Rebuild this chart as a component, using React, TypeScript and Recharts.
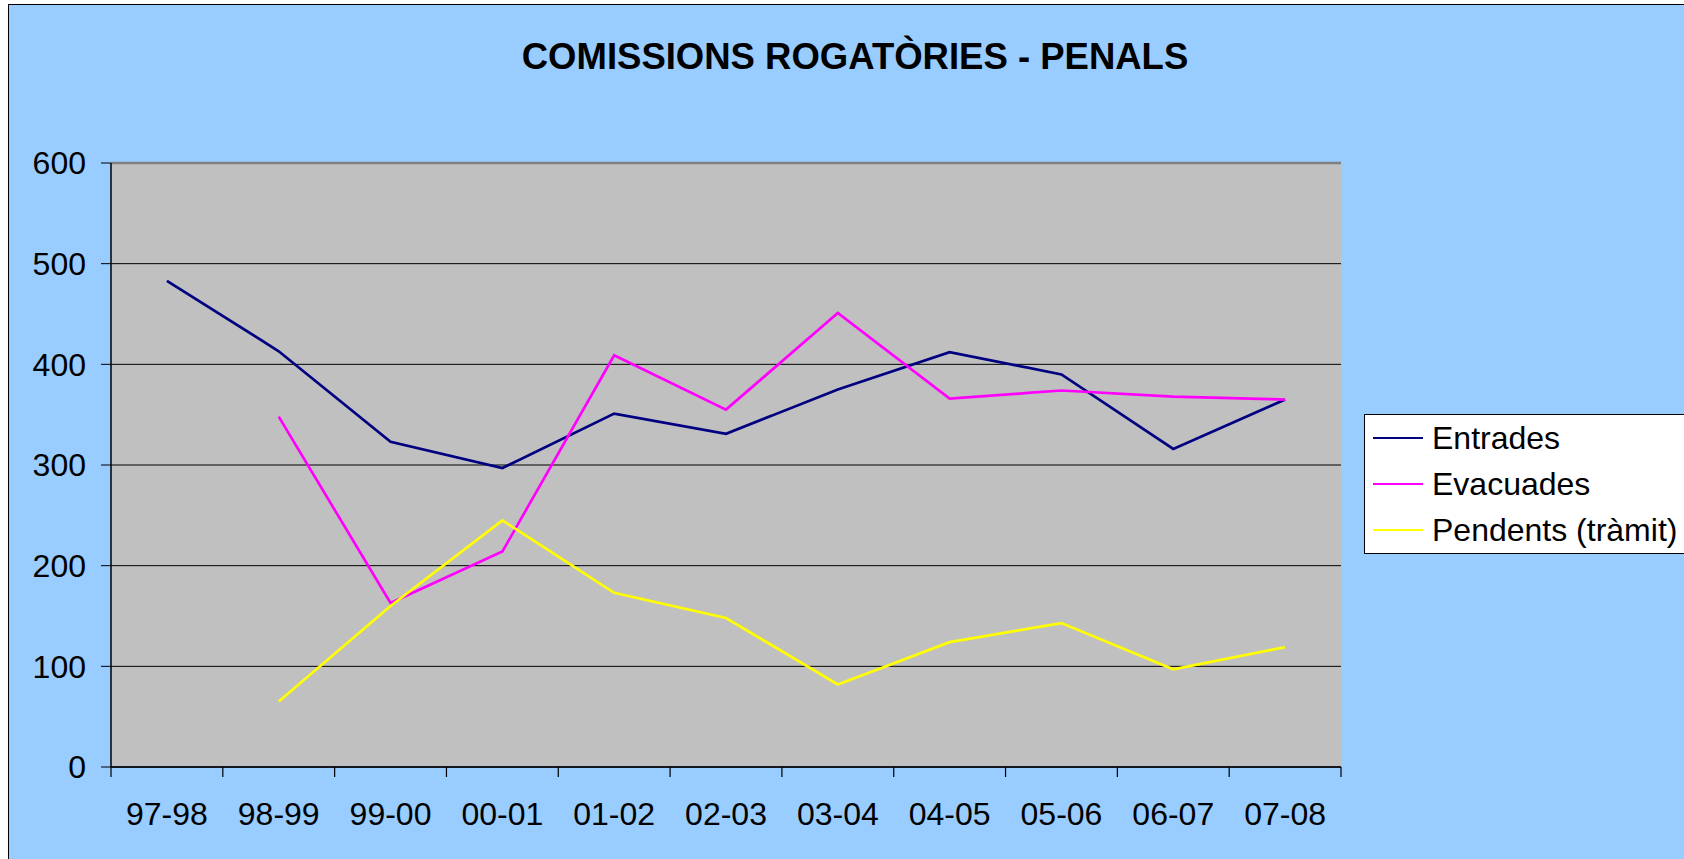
import { CartesianGrid, ComposedChart, Legend, Line, ReferenceLine, XAxis, YAxis } from "recharts";

const categories = ["97-98", "98-99", "99-00", "00-01", "01-02", "02-03", "03-04", "04-05", "05-06", "06-07", "07-08"];
const entrades = [483, 413, 323, 297, 351, 331, 375, 412, 390, 316, 365];
const evacuades = [null, 348, 163, 214, 409, 355, 451, 366, 374, 368, 365];
const pendents = [null, 65, 160, 245, 173, 148, 82, 124, 143, 97, 119];
const yTicks = [0, 100, 200, 300, 400, 500, 600];

const series = [
    { key: "entrades", name: "Entrades", color: "#000080" },
    { key: "evacuades", name: "Evacuades", color: "#FF00FF" },
    { key: "pendents", name: "Pendents (tràmit)", color: "#FFFF00" },
];

const data = categories.map((c, i) => ({
    name: c,
    entrades: entrades[i],
    evacuades: evacuades[i],
    pendents: pendents[i],
}));

const FONT = '"Liberation Sans", Arial, sans-serif';
const CHART_W = 1675;
const CHART_H = 854;
const MARGIN = { top: 158, right: 343, bottom: 0, left: 22 };
const Y_AXIS_W = 80;
const PLOT_W = CHART_W - MARGIN.left - MARGIN.right - Y_AXIS_W;
const BAND = PLOT_W / categories.length;

// category ticks sit between the categories, labels in the middle
const XTick = (props: any) => {
    const { x, y, payload, index } = props;
    const last = index === categories.length - 1;
    return (
        <g>
            <line x1={x - BAND / 2} x2={x - BAND / 2} y1={y} y2={y + 10} stroke="#000" strokeWidth={1.2} />
            {last && <line x1={x + BAND / 2} x2={x + BAND / 2} y1={y} y2={y + 10} stroke="#000" strokeWidth={1.2} />}
            <text x={x} y={y + 58} textAnchor="middle" fontSize={32} fontFamily={FONT} fill="#000">
                {payload.value}
            </text>
        </g>
    );
};

const LegendBox = (props: any) => {
    const items = props.payload || [];
    return (
        <div
            style={{
                background: "#fff",
                border: "1px solid #000",
                width: 340,
                boxSizing: "border-box",
                fontFamily: FONT,
                fontSize: 32,
                color: "#000",
            }}
        >
            {items.map((it: any) => (
                <div key={it.value} style={{ height: 46, display: "flex", alignItems: "center", paddingLeft: 8 }}>
                    <span style={{ display: "inline-block", width: 50, height: 2.5, background: it.color, marginRight: 9 }} />
                    <span style={{ whiteSpace: "nowrap" }}>{it.value}</span>
                </div>
            ))}
        </div>
    );
};

export default function App() {
    return (
        <div
            style={{
                position: "fixed",
                left: 8,
                top: 4,
                right: 0,
                bottom: 0,
                background: "#99CCFF",
                borderLeft: "1px solid #000",
                borderTop: "1px solid #000",
                overflow: "hidden",
            }}
        >
            <div
                style={{
                    position: "absolute",
                    left: 346,
                    top: 34,
                    width: 1000,
                    textAlign: "center",
                    fontFamily: FONT,
                    fontWeight: "bold",
                    fontSize: 36.5,
                    lineHeight: "36.5px",
                    color: "#000",
                    whiteSpace: "nowrap",
                }}
            >
                COMISSIONS ROGATÒRIES - PENALS
            </div>
            <ComposedChart width={CHART_W} height={CHART_H} data={data} margin={MARGIN}>
                <CartesianGrid vertical={false} stroke="#000" strokeWidth={1} fill="#C0C0C0" yAxisId="left" />
                <XAxis
                    dataKey="name"
                    height={92}
                    padding={{ left: BAND / 2, right: BAND / 2 }}
                    tickLine={false}
                    tickSize={0}
                    tickMargin={0}
                    interval={0}
                    axisLine={{ stroke: "#000", strokeWidth: 1.5 }}
                    tick={<XTick />}
                />
                <YAxis
                    yAxisId="left"
                    width={Y_AXIS_W}
                    domain={[0, 600]}
                    ticks={yTicks}
                    interval={0}
                    tickSize={10}
                    tickMargin={15}
                    tickLine={{ stroke: "#000" }}
                    axisLine={{ stroke: "#000", strokeWidth: 1.5 }}
                    tick={{ fontSize: 32, fontFamily: FONT, fill: "#000" }}
                />
                <YAxis
                    yAxisId="right"
                    orientation="right"
                    width={0}
                    domain={[0, 600]}
                    tick={false}
                    tickLine={false}
                    axisLine={{ stroke: "#808080", strokeWidth: 2.7 }}
                />
                <ReferenceLine yAxisId="left" y={600} stroke="#808080" strokeWidth={2.7} />
                <Legend
                    layout="vertical"
                    align="center"
                    verticalAlign="middle"
                    content={<LegendBox />}
                    wrapperStyle={{ left: 1355, top: 409, width: 340 }}
                />
                {series.map((s) => (
                    <Line
                        key={s.key}
                        yAxisId="left"
                        type="linear"
                        dataKey={s.key}
                        name={s.name}
                        stroke={s.color}
                        strokeWidth={2.7}
                        dot={false}
                        activeDot={false}
                        isAnimationActive={false}
                    />
                ))}
            </ComposedChart>
        </div>
    );
}
